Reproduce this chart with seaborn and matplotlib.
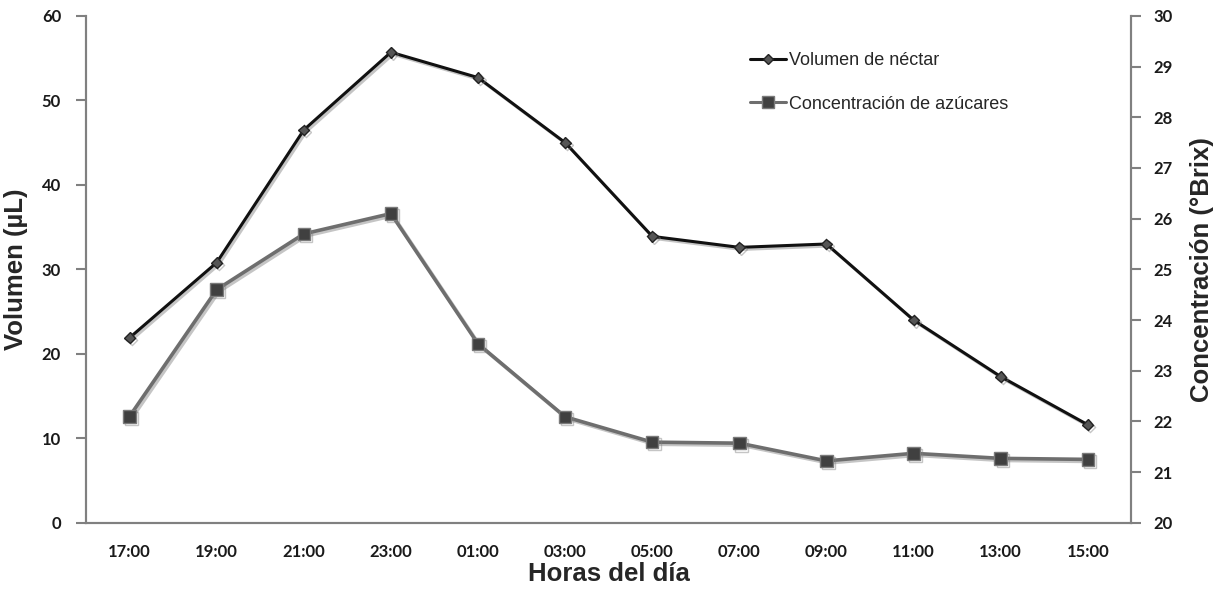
import matplotlib
matplotlib.use('Agg')
import matplotlib.pyplot as plt
import matplotlib.patheffects as pe
from matplotlib.lines import Line2D
import numpy as np
import seaborn as sns

horas = ['17:00', '19:00', '21:00', '23:00', '01:00', '03:00',
         '05:00', '07:00', '09:00', '11:00', '13:00', '15:00']
volumen = [21.9, 30.8, 46.5, 55.7, 52.7, 45.0, 33.9, 32.6, 33.0, 24.0, 17.3, 11.6]
concentracion = [22.1, 24.6, 25.7, 26.1, 23.53, 22.09, 21.59, 21.57, 21.22, 21.37, 21.27, 21.25]

sns.set_style('white')
plt.rcParams['font.family'] = ['Liberation Sans', 'DejaVu Sans']

fig = plt.figure(figsize=(12.24, 5.9), dpi=100)
ax = fig.add_axes([0.0703, 0.114, 0.854, 0.859])
ax2 = ax.twinx()

x = np.arange(len(horas))
shadow = [pe.SimpleLineShadow(offset=(1.5, -1.5), shadow_color='gray', alpha=0.45), pe.Normal()]

sns.lineplot(x=x, y=volumen, ax=ax, color='#111111', linewidth=2.2,
             marker='D', markersize=5.5, markerfacecolor='#555555',
             markeredgecolor='#222222', markeredgewidth=1,
             path_effects=shadow, legend=False)
sns.lineplot(x=x, y=concentracion, ax=ax2, color='#6e6e6e', linewidth=2.6,
             marker='s', markersize=9, markerfacecolor='#404040',
             markeredgecolor='#7a7a7a', markeredgewidth=1,
             path_effects=shadow, legend=False)

ax.set_xlim(-0.5, len(horas) - 0.5)
ax.set_ylim(0, 60)
ax2.set_ylim(20, 30)
ax.set_yticks(range(0, 61, 10))
ax2.set_yticks(range(20, 31, 1))

ax.set_xticks(x)
ax.set_xticklabels(horas)
ax.set_xticks(np.arange(-0.5, len(horas), 1), minor=True)
ax.tick_params(axis='x', which='major', length=0, pad=15)
ax.tick_params(axis='x', which='minor', length=7, width=1.5, color='#808080', direction='out')
ax.tick_params(axis='y', length=7, width=1.5, color='#808080', direction='out', pad=11, left=True)
ax2.tick_params(axis='y', length=7, width=1.5, color='#808080', direction='out', pad=9, right=True)

for lab in ax.get_xticklabels() + ax.get_yticklabels() + ax2.get_yticklabels():
    lab.set_fontfamily(['Lato', 'DejaVu Sans'])
    lab.set_fontweight('bold')
    lab.set_fontsize(12)
    lab.set_color('#1a1a1a')

for a in (ax, ax2):
    a.spines['top'].set_visible(False)
    for s in ('left', 'bottom', 'right'):
        a.spines[s].set_color('#808080')
        a.spines[s].set_linewidth(1.5)
    a.grid(False)

ax.set_xlabel('Horas del día', fontsize=18.5, fontweight='bold', labelpad=2)
ax.set_ylabel('Volumen (µL)', fontsize=18.5, fontweight='bold', labelpad=10)
ax2.set_ylabel('Concentración (°Brix)', fontsize=18.5, fontweight='bold', labelpad=12)

handles = [
    Line2D([], [], color='#111111', linewidth=2.2, marker='D', markersize=5.5,
           markerfacecolor='#555555', markeredgecolor='#222222'),
    Line2D([], [], color='#6e6e6e', linewidth=2.2, marker='s', markersize=8,
           markerfacecolor='#404040', markeredgecolor='#7a7a7a'),
]
ax2.legend(handles, ['Volumen de néctar', 'Concentración de azúcares'],
           loc='upper left', bbox_to_anchor=(0.62, 0.96), frameon=False,
           fontsize=13, handlelength=2.0, handletextpad=0.15, labelspacing=1.45)

fig.savefig('out.png', dpi=100)
